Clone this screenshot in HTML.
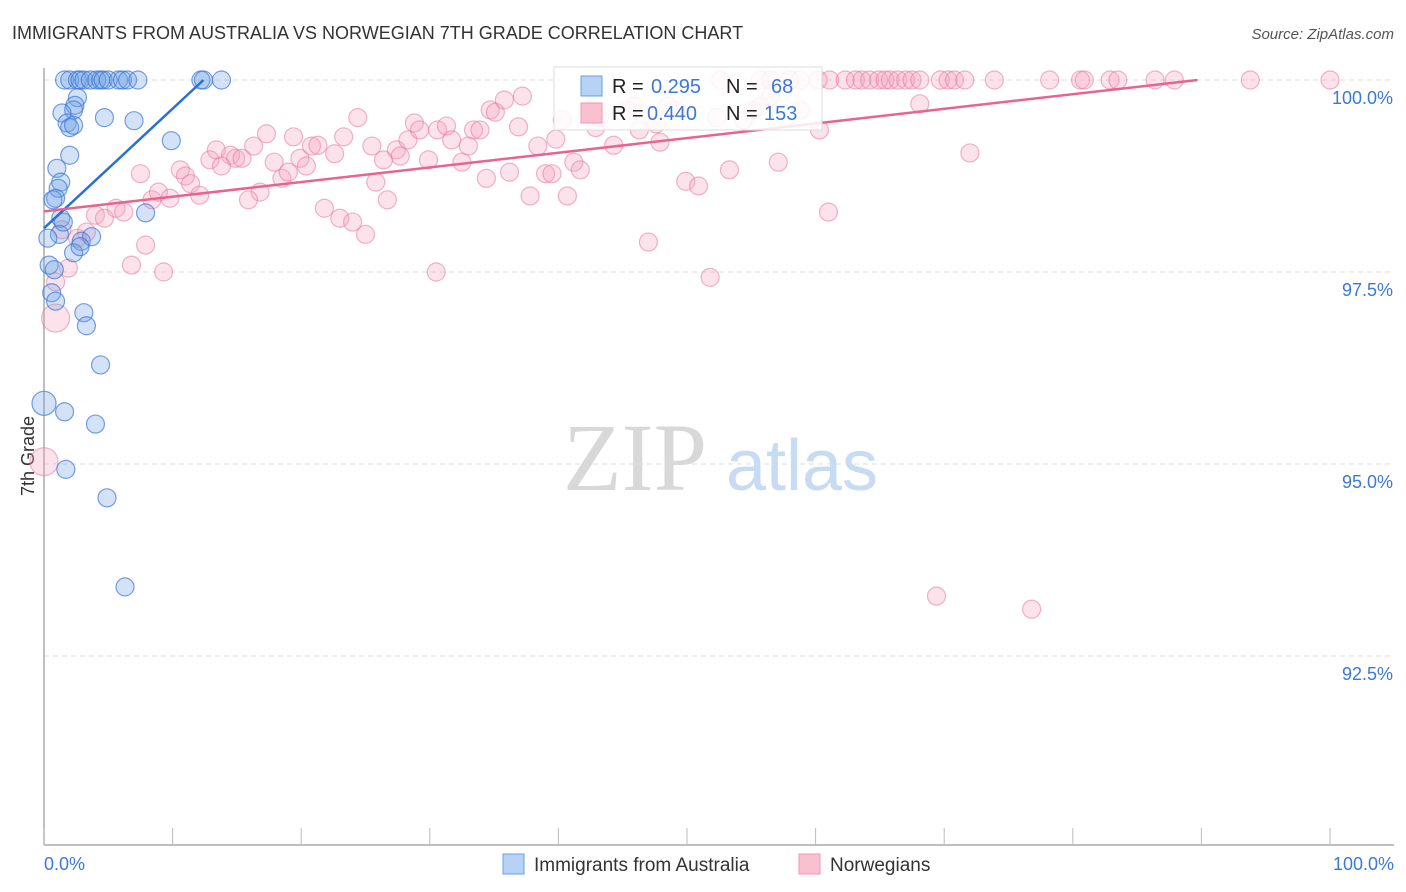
<!DOCTYPE html>
<html><head><meta charset="utf-8"><style>
body{margin:0;background:#fff;font-family:"Liberation Sans",sans-serif;}
#wrap{position:relative;width:1406px;height:892px;overflow:hidden;}
</style></head><body>
<div id="wrap">
<svg id="svg" width="1406" height="892" xmlns="http://www.w3.org/2000/svg">
<text x="12" y="39" font-size="18" fill="#333">IMMIGRANTS FROM AUSTRALIA VS NORWEGIAN 7TH GRADE CORRELATION CHART</text>
<text x="1394" y="39" font-size="15" fill="#555" font-style="italic" text-anchor="end">Source: ZipAtlas.com</text>
<text x="34" y="456" font-size="18" fill="#333" text-anchor="middle" transform="rotate(-90 34 456)">7th Grade</text>
<g><text x="635" y="490" font-size="96" fill="#d8d8d8" font-family="Liberation Serif,serif" text-anchor="middle">ZIP</text><text x="802" y="490" font-size="72" fill="#c7dbf2" text-anchor="middle">atlas</text></g>
<g id="grid"></g><g id="axes"></g><g id="pts"></g><g id="trend"></g>
<g>
<rect x="554" y="67" width="268" height="63" fill="#fff" fill-opacity="0.85" stroke="#ddd"/>
<rect x="581" y="76" width="21" height="20" fill="#b6d2f5" stroke="#6aa0e0"/>
<rect x="581" y="103" width="21" height="20" fill="#f9c0d0" stroke="#eb9ab3"/>
<text x="612" y="93" font-size="20" fill="#222">R = </text><text x="651" y="93" font-size="20" fill="#3c78d8">0.295</text>
<text x="726" y="93" font-size="20" fill="#222">N = </text><text x="771" y="93" font-size="20" fill="#3c78d8">68</text>
<text x="612" y="120" font-size="20" fill="#222">R = </text><text x="647" y="120" font-size="20" fill="#3c78d8">0.440</text>
<text x="726" y="120" font-size="20" fill="#222">N = </text><text x="764" y="120" font-size="20" fill="#3c78d8">153</text>
</g>
<g>
<rect x="503" y="854" width="21" height="20" fill="#b6d2f5" stroke="#6aa0e0"/>
<text x="534" y="871" font-size="19" fill="#333">Immigrants from Australia</text>
<rect x="799" y="854" width="21" height="20" fill="#f9c0d0" stroke="#eb9ab3"/>
<text x="830" y="871" font-size="19" fill="#333">Norwegians</text>
</g>
</svg>
</div>
<script>
const yTicks=[100,97.5,95,92.5];
const yTickLabels=["100.0%","97.5%","95.0%","92.5%"];
const xTickLabels=["0.0%","100.0%"];
const blueX=[1.6,2.0,2.6,2.8,3.1,3.6,4.1,4.4,4.6,5.0,5.8,6.1,6.5,7.3,12.2,12.4,13.8,2.6,2.4,2.3,1.4,1.8,2.0,2.3,4.7,7.0,9.9,2.0,1.0,1.3,1.1,0.9,0.7,1.3,7.9,1.2,0.3,2.9,3.7,2.3,0.4,0.8,0.6,0.9,3.1,3.3,4.4,0.0,1.6,4.0,1.7,4.9,6.3,2.8,1.5];
const blueY=[100,100,100,100,100,100,100,100,100,100,100,100,100,100,100,100,100,99.77,99.67,99.61,99.57,99.44,99.38,99.41,99.51,99.47,99.21,99.02,98.85,98.67,98.59,98.46,98.44,98.20,98.27,97.99,97.94,97.90,97.96,97.75,97.59,97.53,97.23,97.12,96.97,96.80,96.29,95.79,95.68,95.52,94.93,94.56,93.40,97.83,98.15];
const pinkX=[0.9,0.0,0.9,1.9,1.4,2.6,3.3,4.0,4.7,5.6,6.2,7.5,7.9,6.8,9.3,8.4,8.9,10.6,11.0,11.4,12.1,9.8,12.9,13.4,14.5,14.9,15.4,13.8,16.3,17.3,16.8,15.9,17.9,18.5,19.0,19.4,19.9,20.4,20.8,21.3,22.6,23.3,21.8,23.0,24.0,25.0,24.4,25.5,25.8,26.4,26.7,27.4,27.7,28.3,28.8,29.2,29.9,30.6,30.5,31.3,31.7,32.5,33.0,33.4,33.9,34.4,34.7,35.1,35.8,36.2,36.9,37.2,37.8,38.4,39.0,39.5,39.8,40.3,40.7,41.2,41.7,42.5,42.9,43.2,44.3,45.3,45.9,46.3,47.0,47.6,47.9,48.5,49.1,49.9,50.9,51.8,52.3,53.3,54.4,55.1,55.7,56.5,57.1,58.8,60.3,61.0,68.1,72.0,69.4,76.8,52.6,55.7,56.5,58.0,58.8,60.2,61.1,62.3,63.1,63.6,64.2,64.9,65.4,65.8,66.4,67.0,67.5,68.1,69.7,70.3,70.8,71.6,73.9,78.2,80.6,80.9,82.9,83.5,86.4,87.9,93.8,100];
const pinkY=[96.90,95.03,97.37,97.55,98.05,97.94,98.02,98.24,98.20,98.33,98.28,98.78,97.85,97.59,97.50,98.44,98.54,98.83,98.75,98.65,98.50,98.46,98.96,99.09,99.02,98.98,98.98,98.88,99.14,99.30,98.54,98.44,98.93,98.72,98.80,99.26,98.98,98.88,99.14,99.15,99.04,99.26,98.33,98.20,98.15,97.99,99.51,99.14,98.67,98.96,98.44,99.09,99.01,99.22,99.44,99.35,98.96,99.35,97.50,99.40,99.22,98.93,99.14,99.35,99.35,98.72,99.61,99.58,99.74,98.80,99.39,99.79,98.49,99.14,98.78,98.78,99.23,99.48,98.49,98.93,98.83,99.61,99.38,99.51,99.15,99.61,99.66,99.35,97.89,99.43,99.19,99.66,99.61,98.68,98.62,97.43,99.51,98.83,99.48,99.61,99.66,99.79,98.93,99.61,99.35,98.28,99.69,99.05,93.28,93.11,100,100,100,100,100,100,100,100,100,100,100,100,100,100,100,100,100,100,100,100,100,100,100,100,100,100,100,100,100,100,100,100];
const blueTrend=[[0,98.07],[12.4,100]];
const pinkTrend=[[0,98.29],[89.7,100]];
const NS="http://www.w3.org/2000/svg";
const X0=44,X1=1330,YTOP=80,PXPER=76.8,YBOT=845;
function sx(v){return X0+(X1-X0)*v/100;}
function sy(v){return YTOP+(100-v)*PXPER;}
function mk(tag,attrs,parent){const e=document.createElementNS(NS,tag);for(const k in attrs)e.setAttribute(k,attrs[k]);parent.appendChild(e);return e;}
const grid=document.getElementById('grid'),axes=document.getElementById('axes'),pts=document.getElementById('pts'),trend=document.getElementById('trend');
yTicks.forEach((t,i)=>{
 const l=mk('line',{x1:X0,x2:1394,y1:sy(t),y2:sy(t),stroke:'#ddd','stroke-dasharray':'5,4'},grid);
 
 
 const tx=mk('text',{x:1393,y:sy(t)+24,'font-size':18,fill:'#3c78d8','text-anchor':'end'},axes);
 tx.textContent=yTickLabels[i];
 
 
});
const ax=mk('line',{x1:X0,x2:1394,y1:YBOT,y2:YBOT,stroke:'#aaa','stroke-width':1.5},axes);


const ay=mk('line',{x1:X0,x2:X0,y1:68,y2:YBOT,stroke:'#aaa','stroke-width':1.5},axes);


for(let i=0;i<=10;i++){
 const tk=mk('line',{x1:sx(i*10),x2:sx(i*10),y1:828,y2:YBOT,stroke:'#bbb'},axes);
 
 
}
[[0,'start'],[100,'end']].forEach((p,i)=>{
 const t=mk('text',{x:p[0]===0?44:1394,y:870,'font-size':18,fill:'#3c78d8','text-anchor':p[1]},axes);
 t.textContent=xTickLabels[i];
 
 
});
pinkX.forEach((x,i)=>{
 const big=(i<2);
 const c=mk('circle',{cx:sx(x),cy:sy(pinkY[i]),r:big?14:9,fill:'rgba(244,160,188,0.3)',stroke:'rgba(230,120,155,0.55)','stroke-width':1.2},pts);
 
 
});
blueX.forEach((x,i)=>{
 const c=mk('circle',{cx:sx(x),cy:sy(blueY[i]),r:(x===0)?12:9,fill:'rgba(110,160,230,0.3)',stroke:'rgba(60,120,215,0.7)','stroke-width':1.2},pts);
 
 
});
const bt=mk('line',{x1:sx(blueTrend[0][0]),y1:sy(blueTrend[0][1]),x2:sx(blueTrend[1][0]),y2:sy(blueTrend[1][1]),stroke:'#2a6fd6','stroke-width':2.5},trend);


const pt=mk('line',{x1:sx(pinkTrend[0][0]),y1:sy(pinkTrend[0][1]),x2:sx(pinkTrend[1][0]),y2:sy(pinkTrend[1][1]),stroke:'#e8648f','stroke-width':2.5},trend);


</script>
</body></html>
